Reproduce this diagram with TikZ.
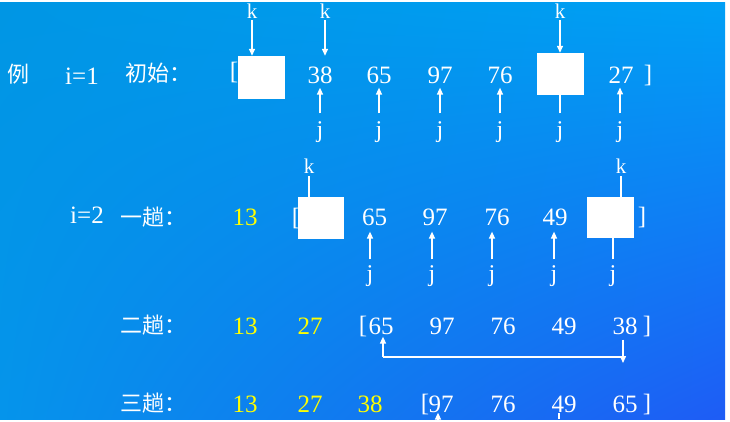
\documentclass[tikz,border=0pt]{standalone}
\usepackage{fontspec}
\setmainfont{Liberation Serif}
\newfontfamily\cjkfont{Noto Sans CJK SC}
\usetikzlibrary{arrows.meta,shadings}
\definecolor{bgUL}{RGB}{0,150,228}
\definecolor{bgUR}{RGB}{0,160,245}
\definecolor{bgLL}{RGB}{5,148,235}
\definecolor{bgLR}{RGB}{30,92,245}
\definecolor{numyellow}{RGB}{255,255,0}
\tikzset{
  num/.style={text=white, inner sep=0pt, font=\fontsize{25}{30}\selectfont},
  ynum/.style={num, text=numyellow},
  klab/.style={text=white, inner sep=0pt, font=\fontsize{21}{25}\selectfont},
  jlab/.style={text=white, inner sep=0pt, font=\fontsize{24}{28}\selectfont},
  ilab/.style={text=white, inner sep=0pt, font=\fontsize{25}{30}\selectfont},
  cjk/.style={text=white, inner sep=0pt, font=\cjkfont\fontsize{22}{26}\selectfont},
  wbox/.style={fill=white, draw=none, inner sep=0pt},
  arr/.style={draw=white, line width=1.4pt, -{Triangle[length=7pt,width=6pt]}},
  ln/.style={draw=white, line width=1.4pt},
}
\begin{document}
\begin{tikzpicture}[x=1pt,y=-1pt]
\useasboundingbox (0,0) rectangle (730,421);
\fill[white] (0,0) rectangle (730,421);
\begin{scope}[y=1pt]
\shade[upper left=bgUL, upper right=bgUR, lower left=bgLL, lower right=bgLR] (0,-419) rectangle (725,-2);
\end{scope}

% ---------- Row 1 ----------
\node[cjk] (li) at (18.5,74) {例};
\node[ilab] (i1) at (82,76) {i=1};
\node[cjk] (chu) at (158,73) {初始：};
\node[num] (br1) at (234,72) {[};
\node[wbox, minimum width=47pt, minimum height=43pt] (b1) at (261.5,77.5) {};
\node[num] (a38) at (320,75) {38};
\node[num] (a65) at (379,75) {65};
\node[num] (a97) at (440,75) {97};
\node[num] (a76) at (500,75) {76};
\node[wbox, minimum width=47pt, minimum height=42pt] (b2) at (560.5,74) {};
\node[num] (a27) at (621,75) {27};
\node[num] (br2) at (648,75) {]};

\node[klab] (k1) at (252,11) {k};
\node[klab] (k2) at (325,11) {k};
\node[klab] (k3) at (560,11) {k};
\draw[arr, shorten <=2pt] (k1.south) -- (k1.south |- b1.north);
\draw[arr, shorten <=2pt] (k2.south) -- (k2.south |- b1.north);
\draw[arr, shorten <=2pt] (k3.south) -- (k3.south |- b2.north);

\node[jlab] (j1) at (320,132) {j};
\node[jlab] (j2) at (379,132) {j};
\node[jlab] (j3) at (440,132) {j};
\node[jlab] (j4) at (500,132) {j};
\node[jlab] (j5) at (560,132) {j};
\node[jlab] (j6) at (620,132) {j};
\draw[arr, shorten <=8pt, shorten >=4pt] (j1.north) -- (j1.north |- a38.south);
\draw[arr, shorten <=8pt, shorten >=4pt] (j2.north) -- (j2.north |- a65.south);
\draw[arr, shorten <=8pt, shorten >=4pt] (j3.north) -- (j3.north |- a97.south);
\draw[arr, shorten <=8pt, shorten >=4pt] (j4.north) -- (j4.north |- a76.south);
\draw[ln, shorten <=8pt] (j5.north) -- (j5.north |- b2.south);
\draw[arr, shorten <=8pt, shorten >=4pt] (j6.north) -- (j6.north |- a27.south);

% ---------- Row 2 ----------
\node[ilab] (i2) at (87,215) {i=2};
\node[cjk] (yi) at (153,217) {一趟：};
\node[ynum] (c13) at (245,217) {13};
\node[num] (br3) at (296,218) {[};
\node[wbox, minimum width=46pt, minimum height=42pt] (b3) at (321,218) {};
\node[num] (c65) at (374.5,217) {65};
\node[num] (c97) at (435,217) {97};
\node[num] (c76) at (497,217) {76};
\node[num] (c49) at (555,217) {49};
\node[wbox, minimum width=47pt, minimum height=41pt] (b4) at (610.5,217.5) {};
\node[num] (br4) at (642,217) {]};

\node[klab] (k4) at (309,166) {k};
\node[klab] (k5) at (621,166) {k};
\draw[ln, shorten <=3pt] (k4.south) -- (k4.south |- b3.north);
\draw[ln, shorten <=3pt] (k5.south) -- (k5.south |- b4.north);

\node[jlab] (m1) at (370,276) {j};
\node[jlab] (m2) at (432,276) {j};
\node[jlab] (m3) at (492,276) {j};
\node[jlab] (m4) at (554,276) {j};
\node[jlab] (m5) at (613,276) {j};
\draw[arr, shorten <=6pt, shorten >=6pt] (m1.north) -- (m1.north |- c65.south);
\draw[arr, shorten <=6pt, shorten >=6pt] (m2.north) -- (m2.north |- c97.south);
\draw[arr, shorten <=6pt, shorten >=6pt] (m3.north) -- (m3.north |- c76.south);
\draw[arr, shorten <=6pt, shorten >=6pt] (m4.north) -- (m4.north |- c49.south);
\draw[ln, shorten <=6pt] (m5.north) -- (m5.north |- b4.south);

% ---------- Row 3 ----------
\node[cjk] (er) at (153,325) {二趟：};
\node[ynum] (d13) at (245,326) {13};
\node[ynum] (d27) at (310,326) {27};
\node[num] (br5) at (363,326) {[};
\node[num] (d65) at (381,326) {65};
\node[num] (d97) at (442,326) {97};
\node[num] (d76) at (503,326) {76};
\node[num] (d49) at (564,326) {49};
\node[num] (d38) at (625,326) {38};
\node[num] (br6) at (647,326) {]};

\coordinate (sL) at (383,357);
\coordinate (sR) at (623,357);
\coordinate (sRe) at (623,363);
\draw[ln] (sL) -- (sR);
\draw[arr, shorten >=2pt] (sL) -- (sL |- d65.south);
\draw[arr, shorten <=5pt] (sR |- d38.south) -- (sRe);

% ---------- Row 4 ----------
\node[cjk] (san) at (153,403) {三趟：};
\node[ynum] (e13) at (245,404) {13};
\node[ynum] (e27) at (310,404) {27};
\node[ynum] (e38) at (370,404) {38};
\node[num] (br7) at (425,404) {[};
\node[num] (e97) at (441,404) {97};
\node[num] (e76) at (503,404) {76};
\node[num] (e49) at (564,404) {49};
\node[num] (e65) at (625,404) {65};
\node[num] (br8) at (647,404) {]};

\coordinate (q1) at (438,419);
\coordinate (q2) at (559,419);
\draw[arr] (q1) -- (q1 |- e97.south);
\draw[ln] (q2) -- (q2 |- e49.south);
\end{tikzpicture}
\end{document}
